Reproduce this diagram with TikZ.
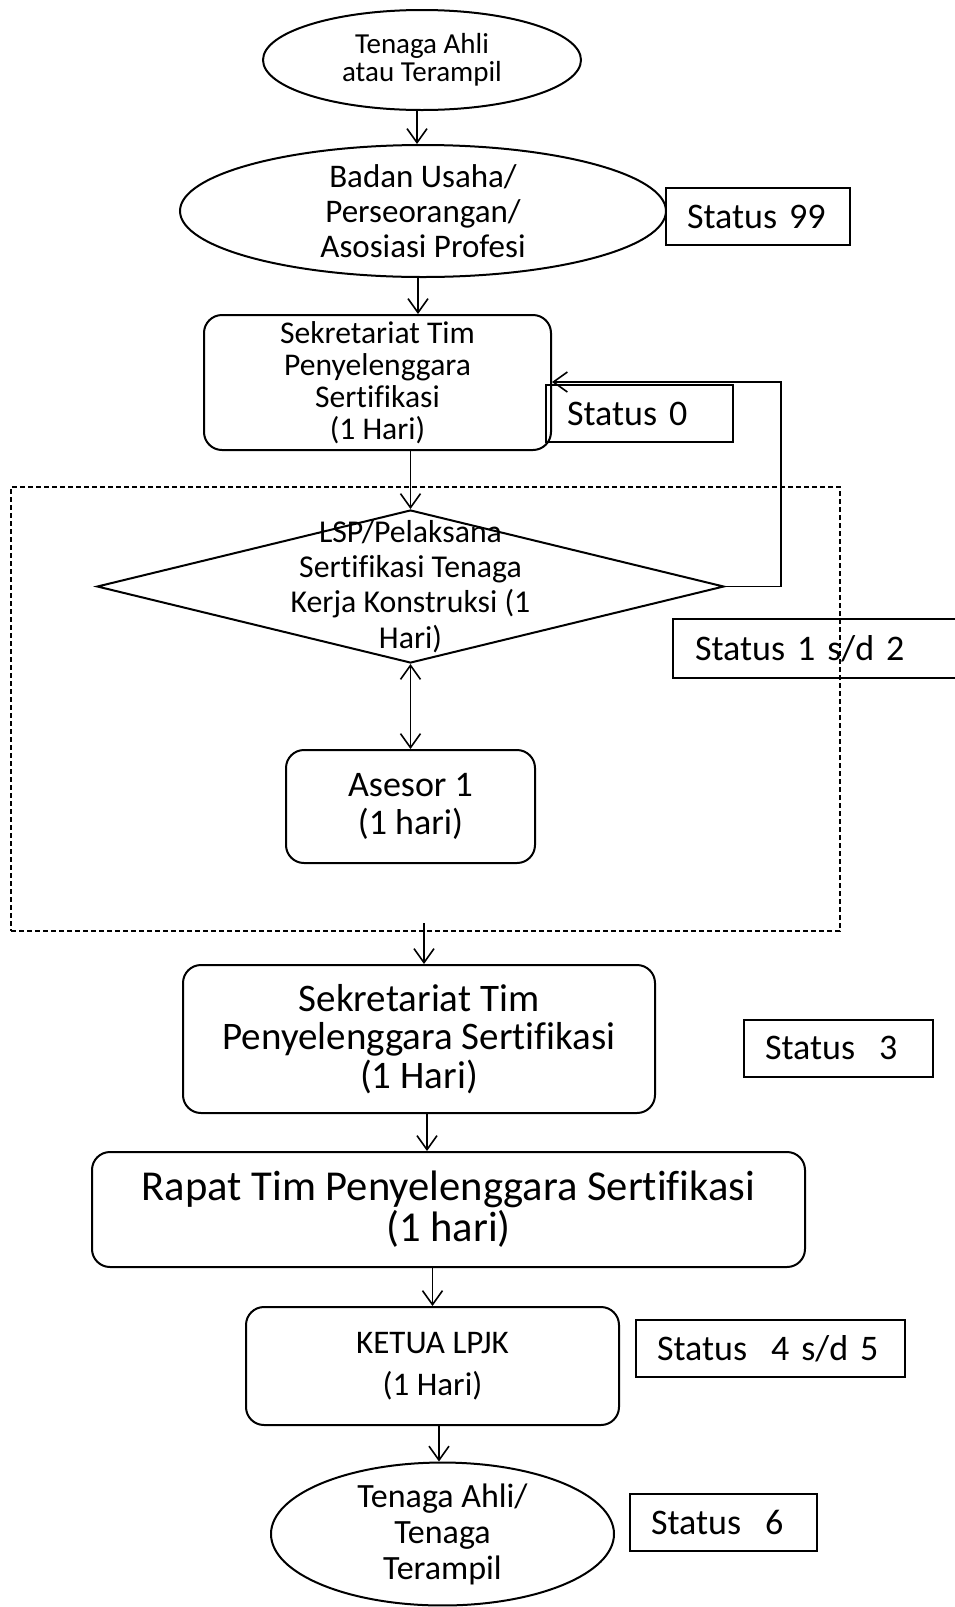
\documentclass[tikz,border=0pt]{standalone}
\usepackage{fontspec}
\setmainfont{Carlito}[Ligatures=NoCommon]
\usetikzlibrary{shapes.geometric, arrows.meta}
\lineskiplimit=-20pt

\begin{document}
\begin{tikzpicture}[x=5pt, y=-5pt,
  barb/.tip={Straight Barb[length=7pt, width=10pt]},
  flowarrow/.style={-barb, line width=0.8pt},
  termellipse/.style={ellipse, draw, line width=1pt, inner sep=0pt, align=center},
  procbox/.style={rectangle, rounded corners=9pt, draw, line width=1pt, inner sep=0pt, align=center},
  statbox/.style={rectangle, draw, line width=1pt, inner xsep=10.5pt, inner ysep=0pt, minimum height=28.5pt, text width=#1, align=left, font=\fontsize{18}{20}\selectfont}]
\fill[white] (0, 0) rectangle (95.4, 160.7);
\useasboundingbox (0, 0) rectangle (95.4, 160.7);

%draw start
\node[termellipse, minimum width=159pt, minimum height=50pt, font=\fontsize{14.5}{14}\selectfont] (tenaga) at (42.2, 6.0) {Tenaga Ahli\\atau Terampil};
\node[termellipse, minimum width=243pt, minimum height=66pt, font=\fontsize{16.5}{17.5}\selectfont] (badan) at (42.3, 21.1) {Badan Usaha/\\Perseorangan/\\Asosiasi Profesi};
\node[procbox, minimum width=173.5pt, minimum height=67.5pt, font=\fontsize{15.8}{16}\selectfont] (sek1) at (37.75, 38.25) {Sekretariat Tim\\Penyelenggara\\Sertifikasi\\(1 Hari)};

%draw LSP part
\node[diamond, draw, line width=1pt, minimum width=313.5pt, minimum height=76.5pt, inner sep=0pt] (lsp) at (41.05, 58.65) {};
\node[align=center, font=\fontsize{15.9}{17.6}\selectfont] (lsptext) at (lsp.center) {LSP/Pelaksana\\Sertifikasi Tenaga\\Kerja Konstruksi (1\\Hari)};
\node[procbox, minimum width=124.5pt, minimum height=56.5pt, font=\fontsize{18}{19}\selectfont] (asesor) at (41.05, 80.65) {Asesor 1\\(1 hari)};

%draw lower part
\node[procbox, minimum width=236pt, minimum height=74pt, font=\fontsize{19.5}{19.2}\selectfont] (sek2) at (41.9, 103.9) {Sekretariat Tim\\Penyelenggara Sertifikasi\\(1 Hari)};
\node[procbox, minimum width=356.5pt, minimum height=57.5pt, font=\fontsize{21.3}{20.5}\selectfont] (rapat) at (44.85, 120.95) {Rapat Tim Penyelenggara Sertifikasi\\(1 hari)};
\node[procbox, minimum width=186.5pt, minimum height=59pt, font=\fontsize{16.5}{21}\selectfont] (ketua) at (43.25, 136.6) {KETUA LPJK\\(1 Hari)};
\node[termellipse, minimum width=171.5pt, minimum height=71pt, font=\fontsize{17}{18}\selectfont] (hasil) at (44.25, 153.4) {Tenaga Ahli/\\Tenaga\\Terampil};

%draw status boxes
\node[statbox=71pt] (st99) at (75.8, 21.65) {Status 99};
\node[statbox=72.5pt] (st0) at (63.95, 41.35) {Status 0};
\node[statbox=119pt, draw=none] (st12) at (81.4, 64.85) {Status 1 s/d 2};
\draw[line width=1pt] (st12.north east) -- (st12.north west) -- (st12.south west) -- (st12.south east);
\node[statbox=73.5pt] (st3) at (83.85, 104.8) {Status\ \ 3};
\node[statbox=113.5pt] (st45) at (77.05, 134.85) {Status\ \ 4 s/d 5};
\node[statbox=72.5pt] (st6) at (72.35, 152.25) {Status\ \ 6};

%draw dashed group
\node[draw, line width=0.8pt, dash pattern=on 2.5pt off 1.5pt, minimum width=414.5pt, minimum height=222pt, inner sep=0pt] (grp) at (42.55, 70.9) {};

%draw arrows
\draw[flowarrow] ([xshift=-2.5pt]tenaga.south) -- ([xshift=-2.5pt]tenaga.south |- badan.north);
\draw[flowarrow] ([xshift=-2.5pt]badan.south) -- ([xshift=-2.5pt]badan.south |- sek1.north);
\draw[flowarrow] (lsp.north |- sek1.south) -- (lsp.north);
\draw[barb-barb, line width=0.8pt] (lsp.south) -- (asesor.north);
\coordinate (loopc) at (78.1, 38.2);
\draw[flowarrow] (lsp.east) -| (loopc) -- (loopc -| sek1.east);
\coordinate (grpout) at (42.4, 92.3);
\draw[flowarrow] (grpout) -- (grpout |- sek2.north);
\draw[flowarrow] ([xshift=4pt]sek2.south) -- ([xshift=4pt]sek2.south |- rapat.north);
\draw[flowarrow] (ketua.north |- rapat.south) -- (ketua.north);
\draw[flowarrow] ([xshift=3.25pt]ketua.south) -- ([xshift=3.25pt]ketua.south |- hasil.north);
\end{tikzpicture}
\end{document}
